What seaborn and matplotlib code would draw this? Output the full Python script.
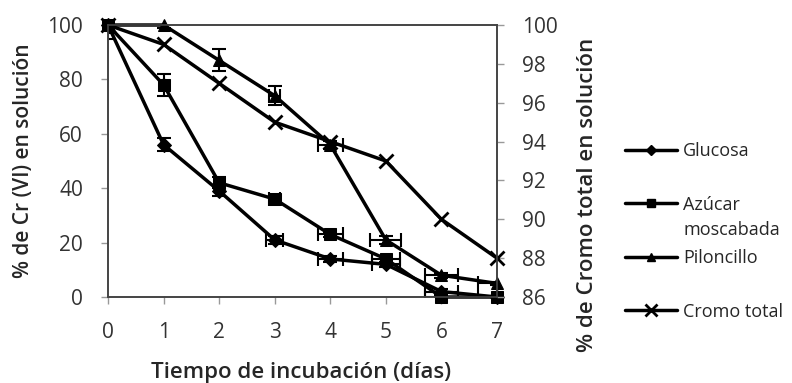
import numpy as np
import pandas as pd
import matplotlib
matplotlib.use('Agg')
import matplotlib.pyplot as plt
from matplotlib.lines import Line2D
import seaborn as sns

# Data
dias = [0, 1, 2, 3, 4, 5, 6, 7]
glucosa = [100, 56, 39, 21, 14, 12, 2, 0]
azucar = [100, 78, 42, 36, 23, 14, 0, 0]
piloncillo = [100, 100, 87, 74, 56, 21, 8, 5]
cromo_total = [100, 99, 97, 95, 94, 93, 90, 88]

glucosa_yerr = [2, 2.5, 2, 1.5, 1, 1, 1, 0.5]
azucar_yerr = [5, 4, 2, 1.5, 1, 1, 0.5, 0.5]
piloncillo_yerr = [3, 1, 4, 3.5, 1.5, 1.5, 1, 0.5]
glucosa_xerr = [0, 0, 0, 0.15, 0.22, 0.25, 0.3, 0]
azucar_xerr = [0, 0, 0, 0.1, 0.22, 0.25, 0.3, 0.35]
piloncillo_xerr = [0, 0, 0, 0.1, 0.22, 0.28, 0.3, 0.35]

sns.set_style('white')
plt.rcParams['font.family'] = ['Open Sans', 'DejaVu Sans']

fig = plt.figure(figsize=(7.92, 3.83), dpi=100)
ax = fig.add_axes([0.1364, 0.2245, 0.4911, 0.7102])
ax2 = ax.twinx()

series = [
    ('Glucosa', glucosa, glucosa_yerr, glucosa_xerr, 'D', 7),
    ('Azúcar', azucar, azucar_yerr, azucar_xerr, 's', 8),
    ('Piloncillo', piloncillo, piloncillo_yerr, piloncillo_xerr, '^', 8),
]

handles = []
for name, vals, ye, xe, mk, ms in series:
    # Excel clips error bars to the plot area
    ax.errorbar(dias, vals, yerr=ye, xerr=xe, fmt='none', ecolor='black',
                elinewidth=1.5, capsize=5, capthick=1.5, zorder=2)
    sns.lineplot(x=dias, y=vals, ax=ax, color='black', linewidth=2.5,
                 marker=mk, markersize=ms, markeredgecolor='black', zorder=3, clip_on=False)
    handles.append(Line2D([], [], color='black', lw=2.5, marker=mk, markersize=ms - 2))

sns.lineplot(x=dias, y=cromo_total, ax=ax2, color='black', linewidth=2.5,
             marker='x', markersize=10, markeredgewidth=2, markeredgecolor='black', clip_on=False)
handles.append(Line2D([], [], color='black', lw=2.5, marker='x', markersize=8,
                      markeredgewidth=2, markeredgecolor='black'))

ax.set_xlim(0, 7)
ax.set_ylim(0, 100)
ax.set_yticks(range(0, 101, 20))
ax.set_xticks(dias)
ax2.set_ylim(86, 100)
ax2.set_yticks(range(86, 101, 2))

for a in (ax, ax2):
    for s in a.spines.values():
        s.set_color('#444444')
        s.set_linewidth(1.2)
    a.tick_params(length=5, width=1, color='#999999', labelsize=15, labelcolor='#333333',
                  direction='out', pad=13)
ax.tick_params(axis='y', left=True)
ax.tick_params(axis='x', bottom=True)
ax2.tick_params(axis='y', right=True)

ax.set_xlabel('Tiempo de incubación (días)', fontsize=16, fontweight='semibold')
ax.set_ylabel('% de Cr (VI) en solución', fontsize=15, fontweight='semibold')
ax2.set_ylabel('% de Cromo total en solución', fontsize=16, fontweight='semibold')
ax.xaxis.set_label_coords(0.497, -0.239)
ax.yaxis.set_label_coords(-0.19, 0.5)
ax2.yaxis.set_label_coords(1.205, 0.375)

labels = ['Glucosa', 'Azúcar', 'Piloncillo', 'Cromo total']
leg = fig.legend(handles, labels, loc='upper left', bbox_to_anchor=(0.789, 0.629),
                 frameon=False, fontsize=13, handlelength=2.9, labelspacing=1.97,
                 handletextpad=0.33, borderaxespad=0, borderpad=0)

# second line of the two-line label hangs below without shifting the other entries
fig.canvas.draw()
bb = leg.get_texts()[1].get_window_extent().transformed(fig.transFigure.inverted())
fig.text(bb.x0, bb.y0 - 0.018, 'moscabada', fontsize=13, va='top', ha='left')

plt.savefig('out.png', dpi=100)
plt.close()
